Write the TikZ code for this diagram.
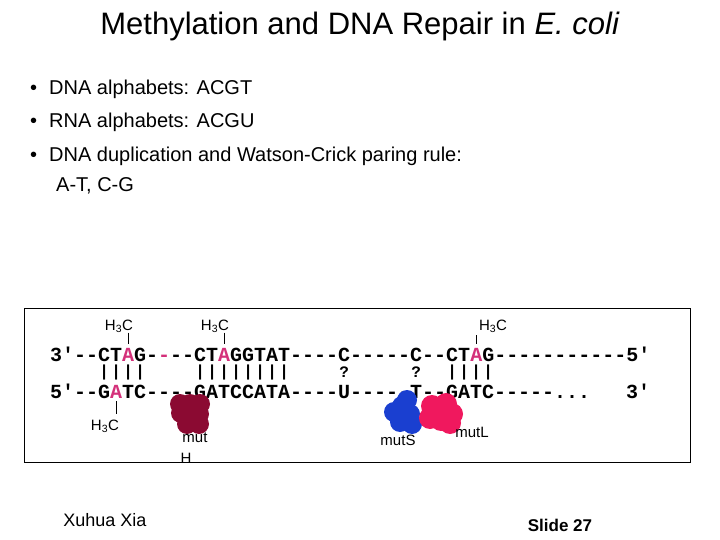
\documentclass[tikz,border=0pt]{standalone}
\usepackage{fontspec}
\setmainfont{Liberation Sans}
\newfontfamily\cour{Liberation Mono}
\definecolor{pinkA}{HTML}{D4307A}
\definecolor{mutH}{HTML}{8B0A32}
\definecolor{mutS}{HTML}{1A3FD0}
\definecolor{mutL}{HTML}{F0185E}
\newcommand{\pa}[1]{\textcolor{pinkA}{#1}}
\newcommand{\cb}[1]{\makebox[12pt]{#1}}
\tikzset{
 seq/.style={anchor=west,inner sep=0pt,font=\cour\bfseries\fontsize{20}{20}\selectfont},
 bars/.style={anchor=west,inner sep=0pt,font=\cour\bfseries\fontsize{16}{16}\selectfont},
 lab/.style={inner sep=0pt,font=\fontsize{15}{15}\selectfont},
 bul/.style={anchor=west,inner sep=0pt,font=\fontsize{20}{24}\selectfont},
 stem/.style={draw=black,line width=0.6pt}
}
\begin{document}
\begin{tikzpicture}[x=1pt,y=-1pt]
\useasboundingbox (0,0) rectangle (720,540);
\fill[white] (0,0) rectangle (720,540);
\node[inner sep=0pt,font=\fontsize{31}{31}\selectfont] (title) at (360,26) {Methylation and DNA Repair in \textit{E. coli}};
\node[bul] (b1) at (30,89) {•\hspace{12pt}DNA alphabets: ACGT};
\node[bul] (b2) at (30,122) {•\hspace{12pt}RNA alphabets: ACGU};
\node[bul] (b3) at (30,156) {•\hspace{12pt}DNA duplication and Watson-Crick paring rule:};
\node[bul] (b4) at (56,186) {A-T, C-G};
\draw[line width=0.8pt] (24,308) rectangle (690,462);
\node[seq] (top) at (50,354) {3'--CT\pa{A}G-\pa{-}--CT\pa{A}GGTAT----C-----C--CT\pa{A}G-----------5'};
\node[bars] (m1) at (98,372) {\cb{|}\cb{|}\cb{|}\cb{|}};
\node[bars] (m2) at (194,372) {\cb{|}\cb{|}\cb{|}\cb{|}\cb{|}\cb{|}\cb{|}\cb{|}};
\node[bars] (m3) at (338,372) {\cb{?}};
\node[bars] (m4) at (410,372) {\cb{?}};
\node[bars] (m5) at (446,372) {\cb{|}\cb{|}\cb{|}\cb{|}};
\node[seq] (bot) at (50,391) {5'--G\pa{A}TC----GATCCATA----U-----T--GATC-----...\ \ \ 3'};
\node[lab] (h1) at (119,326) {H\textsubscript{3}C};
\node[lab] (h2) at (215,326) {H\textsubscript{3}C};
\node[lab] (h3) at (493,326) {H\textsubscript{3}C};
\node[lab] (h4) at (105,426) {H\textsubscript{3}C};
\coordinate (a1) at (128,344);
\coordinate (a2) at (224,344);
\coordinate (a3) at (476,344);
\coordinate (a4) at (116,401);
\draw[stem] (h1.south -| a1) -- (a1);
\draw[stem] (h2.south -| a2) -- (a2);
\draw[stem] (476,335) -- (a3);
\draw[stem] (a4) -- (116,414);
\begin{scope}[fill=mutH]
\foreach \p in {(190,404),(181,413),(199,414),(187,424),(199,424),(191,414),(180,404),(200,404)} \fill \p circle (10);
\end{scope}
\begin{scope}[fill=mutS]
\foreach \p in {(402,406),(410,414),(400,422),(412,424),(407,400),(394,412)} \fill \p circle (10);
\end{scope}
\begin{scope}[fill=mutL]
\foreach \p in {(432,406),(446,404),(452,414),(441,420),(430,418),(450,423),(439,410)} \fill \p circle (11);
\end{scope}
\node[lab] (mh1) at (195,438) {mut};
\node[lab] (mh2) at (186,458) {H};
\node[lab] (ms) at (398,440) {mutS};
\node[lab] (ml) at (472,432) {mutL};
\node[inner sep=0pt,font=\fontsize{18}{18}\selectfont] (auth) at (105,520) {Xuhua Xia};
\node[inner sep=0pt,font=\bfseries\fontsize{17}{17}\selectfont] (slide) at (560,525) {Slide 27};
\end{tikzpicture}
\end{document}
